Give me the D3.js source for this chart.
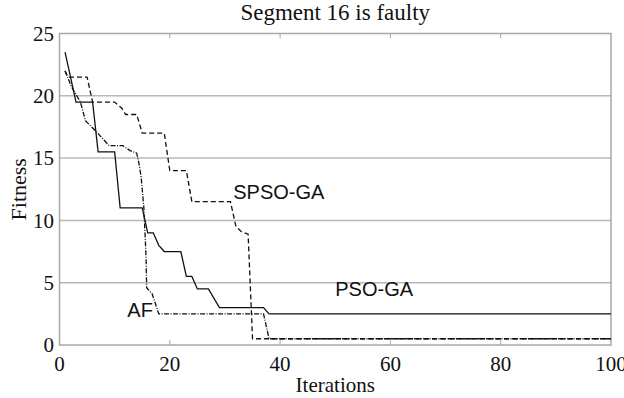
<!DOCTYPE html>
<html>
<head>
<meta charset="utf-8">
<script src="https://cdn.jsdelivr.net/npm/d3@7"></script>
<style>
  html, body { margin: 0; padding: 0; background: #fff; }
  svg { display: block; }
</style>
</head>
<body>
<svg id="chart" width="624" height="398"></svg>
<script>
// ---- Data ----
const title = "Segment 16 is faulty";
const xLabel = "Iterations";
const yLabel = "Fitness";
const xTicks = [0, 20, 40, 60, 80, 100];
const yTicks = [0, 5, 10, 15, 20, 25];
const seriesNames = ["PSO-GA", "SPSO-GA", "AF"];

const psoGA = [
  [1, 23.5], [3, 19.5], [6, 19.5], [7, 15.5], [10, 15.5], [11, 11], [15, 11],
  [16, 9], [17, 9], [18, 8], [19, 7.5], [22, 7.5], [23, 5.5], [24, 5.5],
  [25, 4.5], [27, 4.5], [29, 3], [37, 3], [38, 2.5], [100, 2.5]
];
const spsoGA = [
  [1, 22], [1.5, 21.5], [5, 21.5], [6, 19.5], [10, 19.5], [11.3, 19], [12, 18.5],
  [14, 18.5], [15, 17], [19, 17], [20, 14], [23, 14], [24, 11.5], [31, 11.5],
  [32, 9.5], [33, 9.1], [34.2, 8.9], [35, 0.5], [100, 0.5]
];
const af = [
  [1, 22], [2.2, 20.7], [3.8, 19.5], [4.7, 18], [6.5, 17.2], [9, 16], [11.5, 16],
  [12.8, 15.6], [14, 15.4], [14.4, 14.6], [14.8, 13.5], [15.3, 11], [15.7, 7],
  [15.8, 4.6], [16.8, 4.1], [18, 2.5], [37, 2.5], [38, 0.5], [100, 0.5]
];

// label positions in data units
const labelPos = [
  { name: "SPSO-GA", x: 31.5, y: 12.3 },
  { name: "PSO-GA", x: 50, y: 4.5 },
  { name: "AF", x: 12.3, y: 2.8 }
];

// ---- Chart ----
const svg = d3.select("#chart");
const x = d3.scaleLinear().domain([0, 100]).range([59.5, 611]);
const y = d3.scaleLinear().domain([0, 25]).range([345, 33.5]);

const frameColor = "#a8a8a8";
const gridColor = "#b8b8b8";
const serif = "'Liberation Serif', 'Times New Roman', serif";
const sans = "'Liberation Sans', Arial, sans-serif";

// grid lines
svg.append("g").selectAll("line")
  .data(yTicks.filter(d => d > 0 && d < 25))
  .join("line")
  .attr("x1", x(0)).attr("x2", x(100))
  .attr("y1", d => y(d)).attr("y2", d => y(d))
  .attr("stroke", gridColor).attr("stroke-width", 1.5);

// inner tick marks (top and bottom)
const innerX = xTicks.filter(d => d > 0 && d < 100);
svg.append("g").selectAll("line")
  .data(innerX)
  .join("line")
  .attr("x1", d => x(d)).attr("x2", d => x(d))
  .attr("y1", y(0)).attr("y2", y(0) - 5)
  .attr("stroke", frameColor).attr("stroke-width", 1);
svg.append("g").selectAll("line")
  .data(innerX)
  .join("line")
  .attr("x1", d => x(d)).attr("x2", d => x(d))
  .attr("y1", y(25)).attr("y2", y(25) + 5)
  .attr("stroke", frameColor).attr("stroke-width", 1);

// frame
svg.append("rect")
  .attr("x", x(0)).attr("y", y(25))
  .attr("width", x(100) - x(0)).attr("height", y(0) - y(25))
  .attr("fill", "none").attr("stroke", frameColor).attr("stroke-width", 1.5);

// lines
const line = d3.line().x(d => x(d[0])).y(d => y(d[1]));
const styles = [
  { data: psoGA, dash: null },
  { data: spsoGA, dash: "5,3" },
  { data: af, dash: "5,1.5,1,1.5" }
];
styles.forEach(s => {
  svg.append("path")
    .datum(s.data)
    .attr("d", line)
    .attr("fill", "none")
    .attr("stroke", "#111")
    .attr("stroke-width", 1.3)
    .attr("stroke-dasharray", s.dash);
});

// axis tick labels
svg.append("g").selectAll("text")
  .data(xTicks)
  .join("text")
  .attr("x", d => x(d)).attr("y", 371)
  .attr("text-anchor", "middle")
  .attr("font-family", serif).attr("font-size", 21)
  .attr("fill", "#111")
  .text(d => d);
svg.append("g").selectAll("text")
  .data(yTicks)
  .join("text")
  .attr("x", 54).attr("y", d => y(d))
  .attr("dy", "0.35em")
  .attr("text-anchor", "end")
  .attr("font-family", serif).attr("font-size", 21)
  .attr("fill", "#111")
  .text(d => d);

// axis titles
svg.append("text")
  .attr("x", x(50)).attr("y", 392)
  .attr("text-anchor", "middle")
  .attr("font-family", serif).attr("font-size", 21)
  .attr("fill", "#111")
  .text(xLabel);
svg.append("text")
  .attr("transform", `translate(26, ${(y(0) + y(25)) / 2}) rotate(-90)`)
  .attr("text-anchor", "middle")
  .attr("font-family", serif).attr("font-size", 22)
  .attr("fill", "#111")
  .text(yLabel);
svg.append("text")
  .attr("x", x(50)).attr("y", 20)
  .attr("text-anchor", "middle")
  .attr("font-family", serif).attr("font-size", 23)
  .attr("fill", "#111")
  .text(title);

// series labels
svg.append("g").selectAll("text")
  .data(labelPos)
  .join("text")
  .attr("x", d => x(d.x)).attr("y", d => y(d.y))
  .attr("dy", "0.35em")
  .attr("font-family", sans).attr("font-size", 20)
  .attr("fill", "#111")
  .text(d => d.name);
</script>
</body>
</html>
